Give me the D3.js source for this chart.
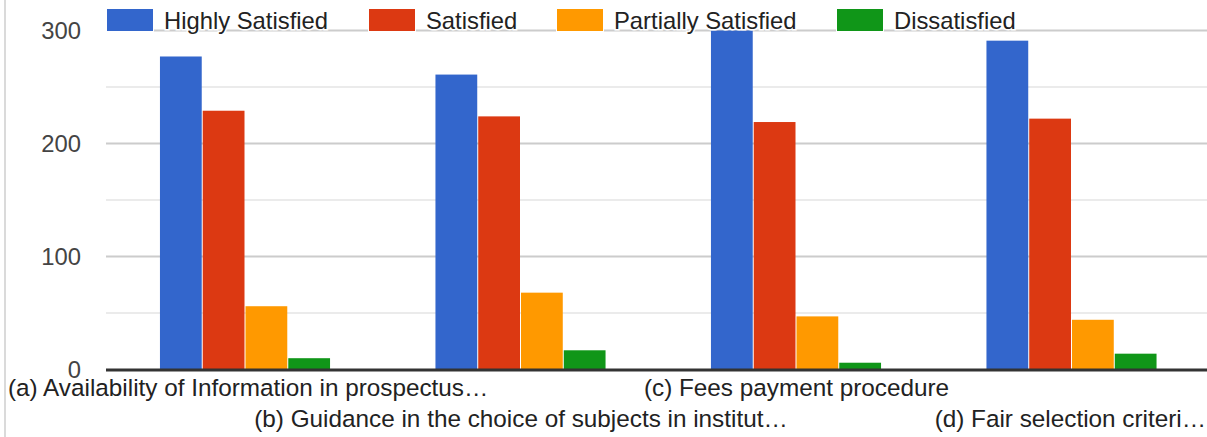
<!DOCTYPE html>
<html>
<head>
<meta charset="utf-8">
<script src="https://cdn.jsdelivr.net/npm/d3@7"></script>
<style>
  html, body { margin: 0; padding: 0; background: #fff; }
  svg { display: block; }
  text { font-family: "Liberation Sans", Arial, sans-serif; }
</style>
</head>
<body>
<svg id="chart" width="1207" height="437"></svg>
<script>
const categories = [
  "(a) Availability of Information in prospectus…",
  "(b) Guidance in the choice of subjects in institut…",
  "(c) Fees payment procedure",
  "(d) Fair selection criteri…"
];
const seriesNames = ["Highly Satisfied", "Satisfied", "Partially Satisfied", "Dissatisfied"];
const highlySatisfied = [277, 261, 300, 291];
const satisfied = [229, 224, 219, 222];
const partiallySatisfied = [56, 68, 47, 44];
const dissatisfied = [10, 17, 6, 14];
const yTicks = [0, 100, 200, 300];
const yMinorTicks = [50, 150, 250];
const colors = ["#3366cc", "#dc3912", "#ff9900", "#109618"];

const seriesValues = [highlySatisfied, satisfied, partiallySatisfied, dissatisfied];

const W = 1207, H = 437;
const svg = d3.select("#chart");
const FS = 23.8;
const FS_CAT = 24.3;

const plotLeft = 106, plotRight = 1215;
const x0 = d3.scaleBand().domain(categories).range([107.75, 1209.75])
  .paddingInner(0.379).paddingOuter(0.1895);
const x1 = d3.scaleBand().domain(seriesNames).range([0, x0.bandwidth()]);
const y = d3.scaleLinear().domain([0, 300]).range([369.5, 30.5]);

// left border
svg.append("line").attr("x1", 5).attr("x2", 5).attr("y1", 0).attr("y2", H)
  .attr("stroke", "#dadada").attr("stroke-width", 2);

// minor gridlines
svg.append("g").selectAll("line").data(yMinorTicks).join("line")
  .attr("x1", plotLeft).attr("x2", plotRight)
  .attr("y1", d => y(d)).attr("y2", d => y(d))
  .attr("stroke", "#ebebeb").attr("stroke-width", 2);

// major gridlines
svg.append("g").selectAll("line").data(yTicks.filter(d => d !== 0)).join("line")
  .attr("x1", plotLeft).attr("x2", plotRight)
  .attr("y1", d => y(d)).attr("y2", d => y(d))
  .attr("stroke", "#cccccc").attr("stroke-width", 2);

// y labels
svg.append("g").selectAll("text").data(yTicks).join("text")
  .attr("x", 81).attr("y", d => y(d))
  .attr("text-anchor", "end").attr("dominant-baseline", "central")
  .attr("font-size", FS).attr("fill", "#444")
  .text(d => d);

// bars
const groups = svg.append("g").selectAll("g").data(categories).join("g")
  .attr("transform", d => `translate(${x0(d)},0)`);
groups.selectAll("rect")
  .data((c, i) => seriesNames.map((s, j) => ({ s, v: seriesValues[j][i], j })))
  .join("rect")
  .attr("x", d => x1(d.s))
  .attr("width", x1.bandwidth() - 1)
  .attr("y", d => y(d.v))
  .attr("height", d => y(0) - y(d.v))
  .attr("fill", d => colors[d.j]);

// baseline
svg.append("line").attr("x1", plotLeft).attr("x2", plotRight)
  .attr("y1", y(0) + 0.5).attr("y2", y(0) + 0.5)
  .attr("stroke", "#333").attr("stroke-width", 3);

// category labels (alternating rows)
const lbl = svg.append("g").selectAll("text").data(categories).join("text")
  .attr("y", (d, i) => i % 2 === 0 ? 396 : 427)
  .attr("font-size", FS_CAT).attr("fill", "#222")
  .text(d => d);
lbl.each(function(d) {
  const w = this.getComputedTextLength();
  let cx = x0(d) + x0.bandwidth() / 2;
  let left = cx - w / 2;
  if (left < 8) left = 8;
  if (left + w > 1206) left = 1206 - w;
  d3.select(this).attr("x", left);
});

// legend
const legendX = [107, 369, 557, 837];
const leg = svg.append("g").selectAll("g").data(seriesNames).join("g")
  .attr("transform", (d, i) => `translate(${legendX[i]},0)`);
leg.append("rect").attr("x", 0).attr("y", 9).attr("width", 46).attr("height", 22)
  .attr("fill", (d, i) => colors[i]).attr("stroke", "#fff").attr("stroke-width", 2)
  .attr("paint-order", "stroke");
leg.append("text").attr("x", 57).attr("y", 29)
  .attr("font-size", FS).attr("fill", "#222")
  .attr("stroke", "#fff").attr("stroke-width", 3).attr("paint-order", "stroke")
  .text(d => d);
</script>
</body>
</html>
